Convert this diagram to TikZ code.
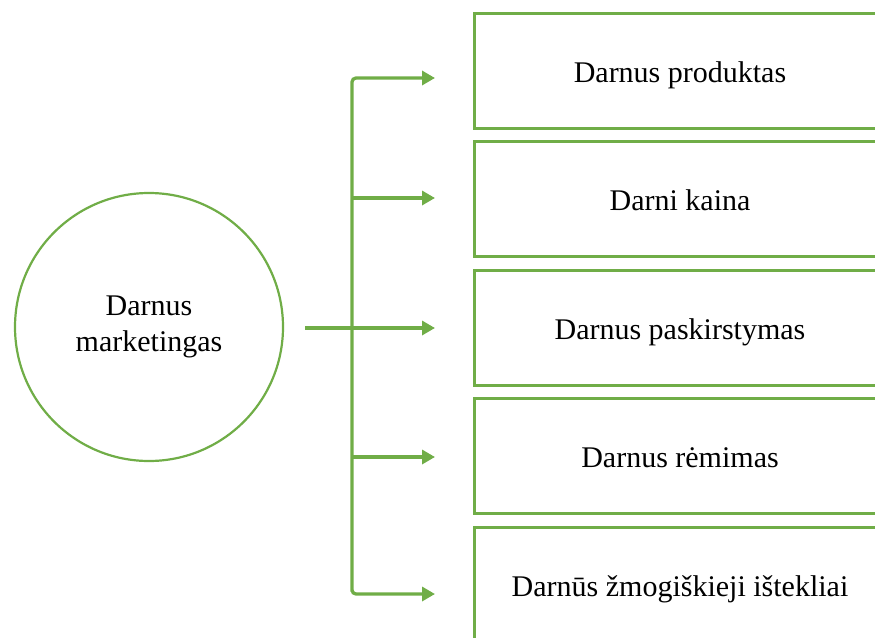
\documentclass[tikz,border=0pt]{standalone}
\usepackage{fontspec}
\setmainfont{Liberation Serif}
\usepackage{color}
\definecolor{mygreen}{RGB}{112,173,71}
\usepackage{tikz}
\usetikzlibrary{arrows.meta,positioning,calc}
\tikzstyle{item}=[draw=mygreen,line width=3pt,rectangle,minimum width=412pt,minimum height=115pt,inner sep=0pt,outer sep=0pt,text height=23pt,text depth=0pt,font=\fontsize{30}{36}\selectfont]
\tikzstyle{hubcircle}=[draw=mygreen,line width=2.2pt,circle,minimum size=268pt,inner sep=0pt,align=center,font=\fontsize{30}{36}\selectfont]
\tikzstyle{flow}=[draw=mygreen,line width=3.3pt,-{Triangle[length=13pt,width=14pt]}]
\begin{document}
\begin{tikzpicture}[x=1pt,y=-1pt,node distance=13.5pt]
\useasboundingbox (0,0) rectangle (875,637);
\clip (0,0) rectangle (875,637);
% circle on the left
\node [hubcircle] (mark) at (149,327) {Darnus\\marketingas};
% boxes on the right
\node [item] (p1) at (680,70.5) {Darnus produktas};
\node [item,below=of p1] (p2) {Darni kaina};
\node [item,below=of p2] (p3) {Darnus paskirstymas};
\node [item,below=of p3] (p4) {Darnus rėmimas};
\node [item,below=of p4] (p5) {Darnūs žmogiškieji ištekliai};
% arrow ends
\coordinate (tip1) at (435,78);
\coordinate (tip2) at (435,198);
\coordinate (tip3) at (435,328);
\coordinate (tip4) at (435,457);
\coordinate (tip5) at (435,594);
\coordinate (trunk) at (352,594);
\coordinate (out) at ([xshift=21pt]mark.east);
% connectors
\draw [flow,{Triangle[length=13pt,width=14pt]}-{Triangle[length=13pt,width=14pt]},rounded corners=4pt]
  (tip1) -| (trunk) |- (tip5);
\draw [flow] (tip2 -| trunk) -- (tip2);
\draw [flow] (out |- tip3) -- (tip3);
\draw [flow] (tip4 -| trunk) -- (tip4);
\end{tikzpicture}
\end{document}
